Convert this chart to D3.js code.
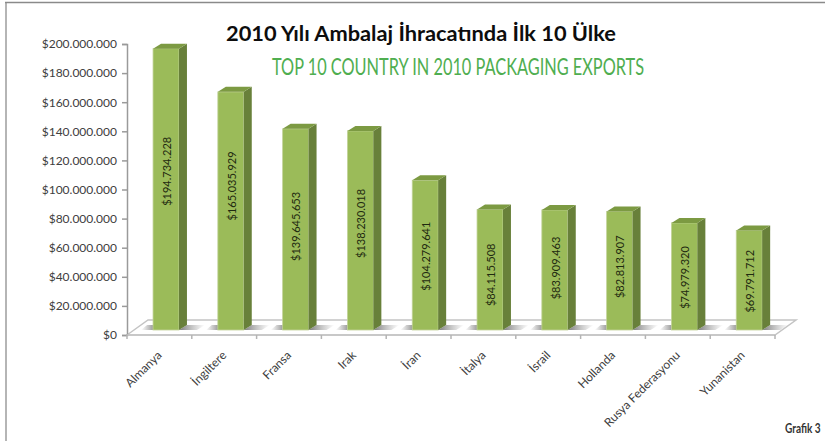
<!DOCTYPE html>
<head>
  <meta charset="utf-8">
  <title>2010 Ambalaj</title>
  <script src="https://d3js.org/d3.v7.min.js"></script>
  <style>
    body { margin: 0; background: #fff; }
    text { font-family: Lato, "Open Sans", sans-serif; }
  </style>
</head>
<body>
  <script>
    var countries = ["Almanya", "İngiltere", "Fransa", "Irak", "İran", "İtalya", "İsrail", "Hollanda", "Rusya Federasyonu", "Yunanistan"];
    var exportValues = [194734228, 165035929, 139645653, 138230018, 104279641, 84115508, 83909463, 82813907, 74979320, 69791712];
    var valueLabels = ["$194.734.228", "$165.035.929", "$139.645.653", "$138.230.018", "$104.279.641", "$84.115.508", "$83.909.463", "$82.813.907", "$74.979.320", "$69.791.712"];
    var yTicks = [0, 20e6, 40e6, 60e6, 80e6, 100e6, 120e6, 140e6, 160e6, 180e6, 200e6];

    var svg = d3.select("body").append("svg")
      .attr("width", 825)
      .attr("height", 441)
      .style("display", "block");

    // frame of the pasted picture
    svg.append("line").attr("x1", 6).attr("x2", 6).attr("y1", 2).attr("y2", 441)
      .attr("stroke", "#b5b5b5").attr("stroke-width", 2);
    svg.append("line").attr("x1", 5).attr("x2", 825).attr("y1", 2.5).attr("y2", 2.5)
      .attr("stroke", "#8a8a8a").attr("stroke-width", 1.5);

    var plotLeft = 127, plotRight = 775;
    // bars stand a little behind the tick bands because of the 3d floor
    var x = d3.scaleBand().domain(countries).range([plotLeft + 6.6, plotRight + 6.6]).paddingInner(0.6).paddingOuter(0.3);
    var xTicks = d3.scaleBand().domain(countries).range([plotLeft, plotRight]);
    var y = d3.scaleLinear().domain([0, 200e6]).range([335, 44]);

    var depthX = 21, depthY = 15; // floor depth
    var barDX = 8, barDY = 5; // bar depth
    var barBottom = y(0) - 5;
    // excel did not centre the rotated labels exactly
    var labelNudge = [-18, -25, -3, -7, 1, 5, -2, -4, 1, 1];

    // floor
    svg.append("path")
      .attr("d", "M" + plotLeft + ",335L" + (plotLeft + depthX) + "," + (335 - depthY) + "H" + (plotRight + depthX) + "L" + plotRight + ",335Z")
      .attr("fill", "#ffffff")
      .attr("stroke", "#c4c4c4")
      .attr("stroke-width", 1.5);

    var defs = svg.append("defs");
    var shade = defs.append("linearGradient").attr("id", "shade");
    shade.append("stop").attr("offset", "0").attr("stop-color", "#7d7d7d");
    shade.append("stop").attr("offset", "1").attr("stop-color", "#9a9a9a").attr("stop-opacity", 0);
    var shadeL = defs.append("linearGradient").attr("id", "shadeL");
    shadeL.append("stop").attr("offset", "0").attr("stop-color", "#9a9a9a").attr("stop-opacity", 0);
    shadeL.append("stop").attr("offset", "1").attr("stop-color", "#8a8a8a");

    var bars = svg.selectAll("g.bar")
      .data(countries)
      .enter().append("g")
      .attr("class", "bar");

    function barTop(d, i) { return y(exportValues[i]) - 3; }

    // floor shadows
    bars.append("path")
      .attr("d", function(d) {
        var r = x(d) + x.bandwidth();
        return "M" + r + "," + barBottom + "L" + (r + barDX) + "," + (barBottom - barDY) + "h18l-8," + barDY + "Z";
      })
      .attr("fill", "url(#shade)");
    bars.append("path")
      .attr("d", function(d) {
        var l = x(d);
        return "M" + (l - 12) + "," + barBottom + "L" + (l - 6) + "," + (barBottom - barDY) + "h8v" + barDY + "Z";
      })
      .attr("fill", "url(#shadeL)");

    // front face
    bars.append("rect")
      .attr("x", function(d) { return x(d); })
      .attr("y", barTop)
      .attr("width", x.bandwidth())
      .attr("height", function(d, i) { return barBottom - barTop(d, i); })
      .attr("fill", "#9bbb59")
      .attr("stroke", "#c2d39a")
      .attr("stroke-width", 0.8);

    // side face
    bars.append("path")
      .attr("d", function(d, i) {
        var r = x(d) + x.bandwidth(), t = barTop(d, i);
        return "M" + r + "," + t + "l" + barDX + "," + (-barDY) + "V" + (barBottom - barDY) + "L" + r + "," + barBottom + "Z";
      })
      .attr("fill", "#68803a");

    // top face
    bars.append("path")
      .attr("d", function(d, i) {
        var l = x(d), t = barTop(d, i);
        return "M" + l + "," + t + "l" + barDX + "," + (-barDY) + "h" + x.bandwidth() + "l" + (-barDX) + "," + barDY + "Z";
      })
      .attr("fill", "#7c9a42");

    // value labels
    bars.append("text")
      .attr("transform", function(d, i) {
        var mid = (barTop(d, i) + barBottom) / 2 + labelNudge[i];
        return "translate(" + (x(d) + x.bandwidth() / 2 + 1) + "," + mid + ") rotate(-90)";
      })
      .attr("text-anchor", "middle")
      .attr("dy", "0.35em")
      .attr("font-size", 11)
      .attr("fill", "#1f2a10")
      .text(function(d, i) { return valueLabels[i]; });

    // y axis
    var yAxis = svg.append("g")
      .attr("transform", "translate(" + plotLeft + ",0)")
      .call(d3.axisLeft(y).tickValues(yTicks).tickSizeOuter(0).tickSize(5).tickFormat(function(v) {
        return "$" + d3.format(",")(v).replace(/,/g, ".");
      }));
    yAxis.selectAll("path, line").attr("stroke", "#9a9a9a").attr("stroke-width", 1.5);
    yAxis.selectAll("text").attr("font-size", 12).attr("fill", "#404040").attr("font-family", "Lato").attr("x", -10);

    // x axis
    var xAxis = svg.append("g").attr("transform", "translate(0,335)");
    xAxis.append("line").attr("x1", plotLeft).attr("x2", plotRight).attr("stroke", "#c4c4c4").attr("stroke-width", 1.5);
    xAxis.selectAll("line.tick")
      .data(countries.concat(["end"]))
      .enter().append("line")
      .attr("class", "tick")
      .attr("x1", function(d, i) { return plotLeft + i * xTicks.bandwidth(); })
      .attr("x2", function(d, i) { return plotLeft + i * xTicks.bandwidth(); })
      .attr("y1", 0).attr("y2", 4)
      .attr("stroke", "#b4b4b4").attr("stroke-width", 1.5);
    xAxis.selectAll("text")
      .data(countries)
      .enter().append("text")
      .attr("transform", function(d) { return "translate(" + (xTicks(d) + xTicks.bandwidth() / 2 + 3) + ",21) rotate(-45)"; })
      .attr("text-anchor", "end")
      .attr("font-size", 12)
      .attr("fill", "#404040")
      .text(function(d) { return d; });

    // titles
    svg.append("text")
      .attr("x", 226).attr("y", 41)
      .attr("font-size", 20).attr("font-weight", 700).attr("fill", "#0d0d0d")
      .attr("textLength", 390).attr("lengthAdjust", "spacingAndGlyphs")
      .text("2010 Yılı Ambalaj İhracatında İlk 10 Ülke");
    svg.append("text")
      .attr("x", 272).attr("y", 75)
      .attr("font-size", 24).attr("fill", "#4fae50")
      .attr("textLength", 372).attr("lengthAdjust", "spacingAndGlyphs")
      .text("TOP 10 COUNTRY IN 2010 PACKAGING EXPORTS");
    svg.append("text")
      .attr("transform", "translate(785,433) scale(0.72,1)")
      .attr("font-size", 14).attr("font-weight", 700).attr("fill", "#333")
      .text("Grafik 3");
  </script>
</body>
